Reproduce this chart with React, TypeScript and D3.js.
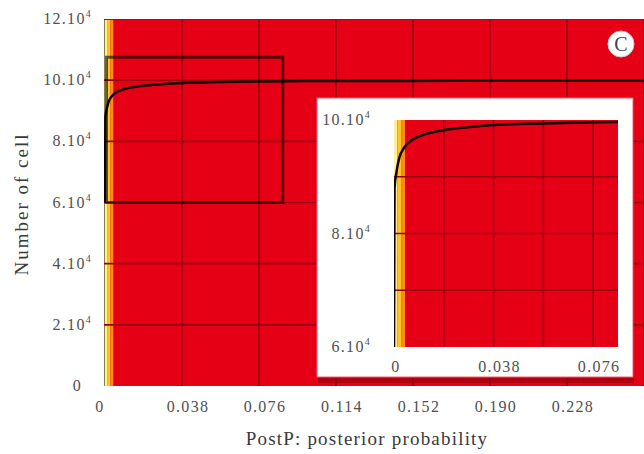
import React from 'react';
import * as d3 from 'd3';

// posterior probability curve (heatmap strip + curve + zoom inset)

const W = 644, H = 454;

const yTicks = [0, 20000, 40000, 60000, 80000, 100000, 120000];
const xTicks = [0, 0.038, 0.076, 0.114, 0.152, 0.19, 0.228];
const insetXTicks = [0, 0.038, 0.076];
const insetYTicks = [60000, 80000, 100000];
const insetXGrid = [0.019, 0.038, 0.057, 0.076];
const insetYGrid = [70000, 80000, 90000];

// colour bands of the heat strip [from, to, colour]
const bandStart = [0, 0.0013, 0.0027, 0.0042];
const bandEnd = [0.0013, 0.0027, 0.0042, 0.3];
const bandColor = ['#fff0a0', '#ffc428', '#ff8a14', '#e50016'];

// curve points
const postP = [0, 0.0002, 0.001, 0.002, 0.004, 0.007, 0.012, 0.019, 0.028, 0.038, 0.057, 0.076, 0.1, 0.15, 0.2, 0.27];
const cells = [60000, 88000, 91000, 93300, 95200, 96500, 97500, 98200, 98700, 99100, 99400, 99600, 99700, 99750, 99800, 99800];

// zoom window drawn on the main chart
const zoomX = [0, 0.087];
const zoomY = [60000, 107500];

const fmt = (v: number) => (v === 0 ? '0' : d3.format('.3f')(v));

function Pow({ v }: { v: number }) {
  if (v === 0) return <>0</>;
  return (
    <>
      {v / 10000}.10<tspan dy={-7} fontSize={10}>4</tspan>
    </>
  );
}

export default function App() {
  const x = d3.scaleLinear().domain([0, 0.27]).range([105, 652]);
  const y = d3.scaleLinear().domain([0, 120000]).range([386, 19]);

  const ix = d3.scaleLinear().domain([0, 0.0855]).range([394, 618]);
  const iy = d3.scaleLinear().domain([60000, 100000]).range([347, 120]);

  const pts = postP.map((p, i) => [p, cells[i]] as [number, number]);
  const lineMain = d3.line<[number, number]>().x(d => x(d[0])).y(d => y(d[1])).curve(d3.curveMonotoneX);
  const lineInset = d3.line<[number, number]>().x(d => ix(d[0])).y(d => iy(d[1])).curve(d3.curveMonotoneX);

  const font = '"Liberation Serif", "DejaVu Serif", serif';
  const grid = '#980010';
  const tickStyle = { fontSize: 16, letterSpacing: 1.3, fill: '#505050' };

  return (
    <svg width={W} height={H} style={{ position: 'absolute', left: 0, top: 0, background: '#fff' }} fontFamily={font}>
      <defs>
        <clipPath id="mainClip">
          <rect x={104} y={19} width={W - 104} height={367} />
        </clipPath>
        <clipPath id="insetClip">
          <rect x={394} y={119} width={224} height={229} />
        </clipPath>
      </defs>

      {/* main plot */}
      <g clipPath="url(#mainClip)">
        <rect x={104} y={19} width={W - 104} height={367} fill="#e50016" />
        {bandStart.map((b, i) => (
          <rect key={i} x={x(b)} y={19} width={Math.min(x(bandEnd[i]), W) - x(b)} height={367} fill={bandColor[i]} />
        ))}
        <line x1={104.5} x2={104.5} y1={19} y2={386} stroke="#8a8040" strokeWidth={1} />
        {xTicks.concat([0.266]).filter(t => t > 0).map(t => (
          <line key={t} x1={x(t)} x2={x(t)} y1={19} y2={386} stroke={grid} strokeWidth={1.6} />
        ))}
        {yTicks.filter(t => t > 0 && t < 120000).map(t => (
          <line key={t} x1={104} x2={W} y1={y(t)} y2={y(t)} stroke={grid} strokeWidth={1.6} />
        ))}
        <line x1={104} x2={W} y1={19.5} y2={19.5} stroke="#c0001a" strokeWidth={1} />
        <path d={lineMain(pts) || ''} fill="none" stroke="#150000" strokeWidth={2.5} />
        <rect x={x(zoomX[0]) + 1.5} y={y(zoomY[1])} width={x(zoomX[1]) - x(zoomX[0])} height={y(zoomY[0]) - y(zoomY[1])}
          fill="none" stroke="#000" strokeOpacity={0.6} strokeWidth={3} />
      </g>

      {/* axis labels */}
      {yTicks.map(t => (
        <text key={t} x={t === 0 ? 82 : 92} y={y(t) + 5} textAnchor="end" {...tickStyle}>
          <Pow v={t} />
        </text>
      ))}
      {xTicks.map(t => (
        <text key={t} x={t === 0 ? x(t) - 5 : x(t) + 6} y={412} textAnchor="middle" {...tickStyle}>
          {fmt(t)}
        </text>
      ))}
      <text x={367} y={445} textAnchor="middle" fontSize={19} letterSpacing={1.2} fill="#3a3a3a">PostP: posterior probability</text>
      <text transform="translate(28,204) rotate(-90)" textAnchor="middle" fontSize={19} letterSpacing={2} fill="#3a3a3a">Number of cell</text>

      {/* C marker */}
      <circle cx={621} cy={44} r={13} fill="#fff" stroke="#ccc" strokeWidth={1} />
      <text x={621} y={51} textAnchor="middle" fontSize={20} fill="#3a4650">C</text>

      {/* inset */}
      <rect x={318} y={102} width={316} height={281} fill="#8a000e" opacity={0.55} />
      <rect x={317} y={98} width={316} height={279} fill="#fff" stroke="#f06070" strokeWidth={1} />
      <g clipPath="url(#insetClip)">
        <rect x={394} y={120} width={224} height={227} fill="#e50016" />
        {bandStart.map((b, i) => (
          <rect key={i} x={ix(b)} y={120} width={Math.min(ix(bandEnd[i]), 618) - ix(b)} height={227} fill={bandColor[i]} />
        ))}
        {insetXGrid.map(t => (
          <line key={t} x1={ix(t)} x2={ix(t)} y1={120} y2={347} stroke={grid} strokeWidth={1.6} />
        ))}
        {insetYGrid.map(t => (
          <line key={t} x1={394} x2={618} y1={iy(t)} y2={iy(t)} stroke={grid} strokeWidth={1.6} />
        ))}
        <path d={lineInset(pts) || ''} fill="none" stroke="#150000" strokeWidth={2.5} />
      </g>
      {insetYTicks.map(t => (
        <text key={t} x={371} y={iy(t) + 5} textAnchor="end" {...tickStyle}>
          <Pow v={t} />
        </text>
      ))}
      {insetXTicks.map(t => (
        <text key={t} x={t === 0 ? ix(t) + 2 : ix(t) + 6} y={372} textAnchor="middle" {...tickStyle}>
          {fmt(t)}
        </text>
      ))}
    </svg>
  );
}
